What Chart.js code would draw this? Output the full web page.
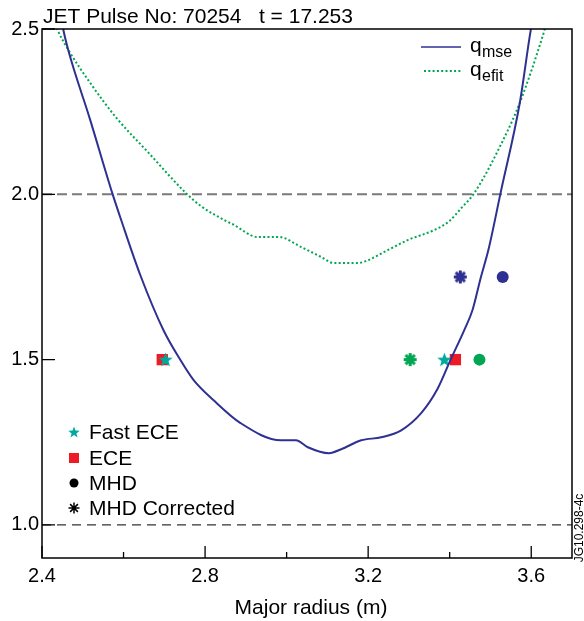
<!DOCTYPE html>
<html>
<head>
<meta charset="utf-8">
<script src="https://cdn.jsdelivr.net/npm/chart.js@4.4.1/dist/chart.umd.min.js"></script>
<style>
  html, body { margin: 0; padding: 0; background: #fff; }
  #wrap { width: 584px; height: 621px; }
</style>
</head>
<body>
<div id="wrap"><canvas id="qChart" width="584" height="621"></canvas></div>
<script>
// q profile from MSE (major radius in m, safety factor q)
const rMse = [2.444, 2.452, 2.464, 2.518, 2.572, 2.594, 2.641, 2.698, 2.740, 2.772, 2.821, 2.887, 2.986, 3.023, 3.052, 3.104, 3.134, 3.183, 3.232, 3.281, 3.330, 3.370, 3.402, 3.436, 3.456, 3.476, 3.495, 3.525, 3.572, 3.599, 3.609];
const qMse = [2.56, 2.50, 2.438, 2.226, 2.005, 1.923, 1.756, 1.589, 1.498, 1.438, 1.377, 1.308, 1.256, 1.256, 1.235, 1.217, 1.229, 1.256, 1.265, 1.286, 1.338, 1.411, 1.499, 1.590, 1.650, 1.747, 1.832, 2.005, 2.277, 2.498, 2.56];

// q profile from EFIT
const rEfit = [2.425, 2.437, 2.464, 2.521, 2.582, 2.661, 2.752, 2.789, 2.846, 2.870, 2.929, 2.981, 3.035, 3.084, 3.116, 3.175, 3.200, 3.249, 3.298, 3.362, 3.397, 3.429, 3.461, 3.535, 3.572, 3.633, 3.645];
const qEfit = [2.54, 2.50, 2.438, 2.332, 2.232, 2.126, 2.005, 1.965, 1.923, 1.908, 1.871, 1.871, 1.841, 1.811, 1.792, 1.792, 1.801, 1.832, 1.862, 1.892, 1.917, 1.959, 2.005, 2.174, 2.277, 2.498, 2.55];

// rational surface locations
const fastEceR = [2.703, 3.387];
const fastEceQ = [1.5, 1.5];
const eceR = [2.695, 3.414];
const eceQ = [1.5, 1.5];
const mhdR = [3.473, 3.530];
const mhdQ = [1.5, 1.75];
const mhdCorrR = [3.303, 3.426];
const mhdCorrQ = [1.5, 1.75];

const xTicks = [2.4, 2.8, 3.2, 3.6];
const xMinorTicks = [2.6, 3.0, 3.4];
const yTicks = [1.0, 1.5, 2.0, 2.5];

const NAVY = "#2e3192";
const GREEN = "#00a651";
const TEAL = "#00a99d";
const RED = "#ed1c24";
const FONT = "'Liberation Sans', Arial, Helvetica, sans-serif";

const pts = (xs, ys) => xs.map((x, i) => ({ x: x, y: ys[i] }));

function starImage(color, size) {
  const c = document.createElement("canvas");
  c.width = size; c.height = size;
  const g = c.getContext("2d");
  const cx = size / 2, cy = size / 2 + 0.6, ro = size / 2, ri = ro * 0.42;
  g.beginPath();
  for (let i = 0; i < 10; i++) {
    const r = i % 2 ? ri : ro;
    const a = -Math.PI / 2 + i * Math.PI / 5;
    g.lineTo(cx + r * Math.cos(a), cy + r * Math.sin(a));
  }
  g.closePath();
  g.fillStyle = color;
  g.fill();
  return c;
}
const tealStar = starImage(TEAL, 15);
const legendStar = starImage(TEAL, 12);

function asterisk(ctx, x, y, r, color, w) {
  ctx.save();
  ctx.strokeStyle = color;
  ctx.lineWidth = w;
  ctx.beginPath();
  for (let i = 0; i < 4; i++) {
    const a = i * Math.PI / 4;
    ctx.moveTo(x - r * Math.cos(a), y - r * Math.sin(a));
    ctx.lineTo(x + r * Math.cos(a), y + r * Math.sin(a));
  }
  ctx.stroke();
  ctx.restore();
}

function asteriskImage(color, size, w) {
  const c = document.createElement("canvas");
  c.width = size; c.height = size;
  asterisk(c.getContext("2d"), size / 2, size / 2, size / 2 - 1, color, w);
  return c;
}

const decor = {
  id: "decor",
  beforeDatasetsDraw(chart) {
    const { ctx, chartArea: a, scales: { y } } = chart;
    ctx.save();
    ctx.setLineDash([10, 5]);
    ctx.strokeStyle = "#7a7a7a";
    ctx.lineWidth = 2;
    ctx.beginPath();
    ctx.moveTo(a.left, y.getPixelForValue(2.0));
    ctx.lineTo(a.right, y.getPixelForValue(2.0));
    ctx.stroke();
    ctx.strokeStyle = "#333";
    ctx.lineWidth = 1.3;
    ctx.setLineDash([9, 6]);
    ctx.beginPath();
    ctx.moveTo(a.left, y.getPixelForValue(1.0));
    ctx.lineTo(a.right, y.getPixelForValue(1.0));
    ctx.stroke();
    ctx.restore();
  },
  afterDraw(chart) {
    const { ctx, chartArea: a, scales: { x, y } } = chart;
    ctx.save();
    // frame
    ctx.strokeStyle = "#000";
    ctx.lineWidth = 1.5;
    ctx.strokeRect(a.left, a.top, a.right - a.left, a.bottom - a.top);
    // inward ticks
    ctx.lineWidth = 1.3;
    ctx.beginPath();
    xTicks.forEach(v => {
      const px = x.getPixelForValue(v);
      ctx.moveTo(px, a.bottom); ctx.lineTo(px, a.bottom - 12);
    });
    xMinorTicks.forEach(v => {
      const px = x.getPixelForValue(v);
      ctx.moveTo(px, a.bottom); ctx.lineTo(px, a.bottom - 6);
    });
    yTicks.forEach(v => {
      const py = y.getPixelForValue(v);
      ctx.moveTo(a.left, py); ctx.lineTo(a.left + 13, py);
    });
    ctx.stroke();

    // title and axis title
    ctx.fillStyle = "#000";
    ctx.font = "21px " + FONT;
    ctx.textBaseline = "alphabetic";
    ctx.textAlign = "left";
    ctx.fillText("JET Pulse No: 70254   t = 17.253", 43, 23);
    ctx.textAlign = "center";
    ctx.fillText("Major radius (m)", 311, 614);

    // line legend
    ctx.textAlign = "left";
    ctx.strokeStyle = NAVY;
    ctx.lineWidth = 1.5;
    ctx.beginPath(); ctx.moveTo(421, 47); ctx.lineTo(461, 47); ctx.stroke();
    ctx.strokeStyle = GREEN;
    ctx.lineWidth = 2;
    ctx.setLineDash([2, 2.3]);
    ctx.beginPath(); ctx.moveTo(424, 71); ctx.lineTo(462, 71); ctx.stroke();
    ctx.setLineDash([]);
    ctx.font = "21px " + FONT;
    ctx.fillText("q", 470, 52);
    ctx.fillText("q", 470, 76);
    ctx.font = "16px " + FONT;
    ctx.fillText("mse", 482, 57);
    ctx.fillText("efit", 482, 81);

    // marker legend
    const rows = [432, 458, 483, 508];
    ctx.drawImage(legendStar, 74 - 6, rows[0] - 6);
    ctx.fillStyle = RED;
    ctx.fillRect(74 - 5, rows[1] - 5, 10, 10);
    ctx.fillStyle = "#000";
    ctx.beginPath(); ctx.arc(74, rows[2], 4.5, 0, Math.PI * 2); ctx.fill();
    asterisk(ctx, 74, rows[3], 5.5, "#000", 1.5);
    ctx.font = "21px " + FONT;
    ctx.textBaseline = "middle";
    ["Fast ECE", "ECE", "MHD", "MHD Corrected"].forEach((t, i) => {
      ctx.fillText(t, 89, rows[i] + 1);
    });

    // figure id
    ctx.font = "12px " + FONT;
    ctx.translate(583, 528);
    ctx.rotate(-Math.PI / 2);
    ctx.textAlign = "center";
    ctx.textBaseline = "alphabetic";
    ctx.fillText("JG10.298-4c", 0, 0);
    ctx.restore();
  }
};

new Chart(document.getElementById("qChart"), {
  type: "scatter",
  data: {
    datasets: [
      {
        label: "q mse",
        data: pts(rMse, qMse),
        showLine: true,
        borderColor: NAVY,
        borderWidth: 2,
        pointRadius: 0,
        cubicInterpolationMode: "monotone"
      },
      {
        label: "q efit",
        data: pts(rEfit, qEfit),
        showLine: true,
        borderColor: GREEN,
        borderWidth: 2,
        borderDash: [2, 2.3],
        pointRadius: 0,
        cubicInterpolationMode: "monotone"
      },
      {
        label: "Fast ECE",
        data: pts(fastEceR, fastEceQ),
        pointStyle: tealStar
      },
      {
        label: "ECE",
        data: pts(eceR, eceQ),
        pointStyle: "rect",
        pointRadius: 8,
        backgroundColor: RED,
        borderWidth: 0
      },
      {
        label: "MHD",
        data: pts(mhdR, mhdQ),
        pointStyle: "circle",
        pointRadius: 6,
        backgroundColor: [GREEN, NAVY],
        borderWidth: 0
      },
      {
        label: "MHD Corrected",
        data: pts(mhdCorrR, mhdCorrQ),
        pointStyle: [asteriskImage(GREEN, 15, 3), asteriskImage(NAVY, 15, 3)]
      }
    ]
  },
  options: {
    responsive: false,
    animation: false,
    devicePixelRatio: 1,
    layout: { padding: { top: 29, right: 12, left: 0, bottom: 0 } },
    plugins: {
      legend: { display: false },
      tooltip: { enabled: false },
      title: { display: false }
    },
    scales: {
      x: {
        type: "linear",
        min: 2.4,
        max: 3.7,
        afterBuildTicks: s => { s.ticks = xTicks.map(v => ({ value: v })); },
        afterFit: s => { s.height = 63; },
        grid: { display: false, drawTicks: false },
        border: { display: false },
        ticks: {
          padding: 6,
          color: "#000",
          font: { family: FONT, size: 20 },
          maxRotation: 0,
          callback: v => v.toFixed(1)
        }
      },
      y: {
        type: "linear",
        min: 0.9,
        max: 2.5,
        afterBuildTicks: s => { s.ticks = yTicks.map(v => ({ value: v })); },
        afterFit: s => { s.width = 42; },
        grid: { display: false, drawTicks: false },
        border: { display: false },
        ticks: {
          padding: 3,
          color: "#000",
          font: { family: FONT, size: 20 },
          callback: v => v.toFixed(1)
        }
      }
    }
  },
  plugins: [decor]
});
</script>
</body>
</html>
